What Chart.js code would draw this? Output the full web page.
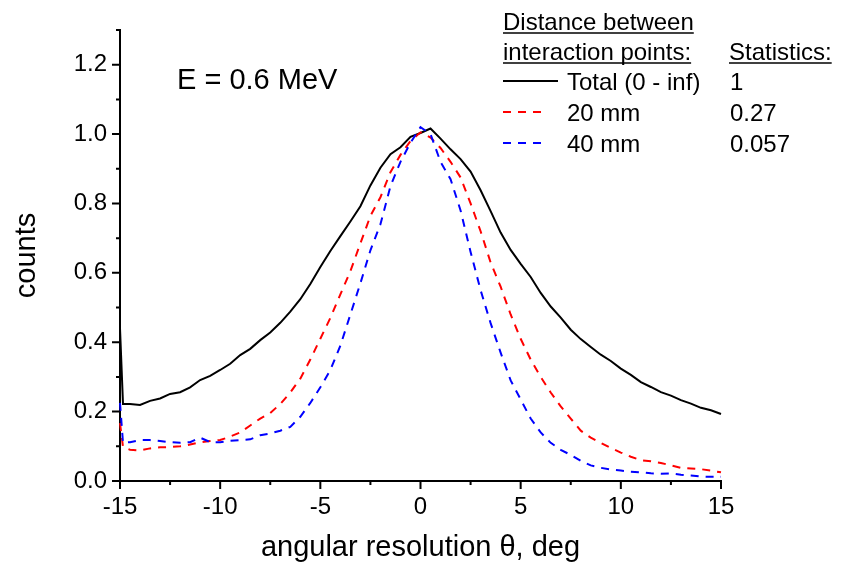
<!DOCTYPE html>
<html>
<head>
<meta charset="utf-8">
<script src="https://cdn.jsdelivr.net/npm/chart.js@4.4.1/dist/chart.umd.min.js"></script>
<style>
  html, body { margin: 0; padding: 0; background: #fff; }
  #wrap { width: 844px; height: 569px; }
</style>
</head>
<body>
<div id="wrap"><canvas id="c" width="844" height="569"></canvas></div>
<script>
// ---- data ----
const theta = [-15, -14.85, -14.5, -14, -13.5, -13, -12.5, -12, -11.5, -11, -10.5, -10, -9.5, -9, -8.5, -8, -7.5, -7, -6.5, -6, -5.5, -5, -4.5, -4, -3.5, -3, -2.5, -2, -1.5, -1, -0.5, 0, 0.5, 1, 1.5, 2, 2.5, 3, 3.5, 4, 4.5, 5, 5.5, 6, 6.5, 7, 7.5, 8, 8.5, 9, 9.5, 10, 10.5, 11, 11.5, 12, 12.5, 13, 13.5, 14, 14.5, 15];
const totalCounts = [0.44, 0.222, 0.222, 0.219, 0.231, 0.238, 0.251, 0.256, 0.270, 0.291, 0.303, 0.320, 0.338, 0.363, 0.381, 0.406, 0.428, 0.456, 0.488, 0.524, 0.568, 0.617, 0.663, 0.706, 0.748, 0.792, 0.852, 0.903, 0.942, 0.962, 0.992, 1.003, 1.016, 0.987, 0.956, 0.928, 0.892, 0.838, 0.778, 0.716, 0.666, 0.626, 0.588, 0.542, 0.503, 0.471, 0.436, 0.409, 0.386, 0.364, 0.346, 0.324, 0.306, 0.285, 0.271, 0.256, 0.246, 0.233, 0.223, 0.211, 0.204, 0.193];
const counts20mm = [0.167, 0.098, 0.090, 0.088, 0.094, 0.097, 0.098, 0.100, 0.105, 0.112, 0.115, 0.118, 0.128, 0.140, 0.160, 0.180, 0.196, 0.222, 0.255, 0.295, 0.350, 0.410, 0.470, 0.538, 0.605, 0.685, 0.764, 0.818, 0.890, 0.940, 0.980, 1.005, 0.990, 0.960, 0.920, 0.875, 0.800, 0.720, 0.630, 0.560, 0.480, 0.410, 0.350, 0.300, 0.255, 0.215, 0.180, 0.145, 0.125, 0.110, 0.095, 0.082, 0.070, 0.060, 0.057, 0.052, 0.045, 0.038, 0.036, 0.034, 0.030, 0.025];
const counts40mm = [0.225, 0.110, 0.112, 0.118, 0.118, 0.115, 0.112, 0.110, 0.112, 0.125, 0.112, 0.112, 0.116, 0.118, 0.120, 0.132, 0.137, 0.145, 0.156, 0.185, 0.225, 0.270, 0.320, 0.390, 0.480, 0.570, 0.665, 0.740, 0.850, 0.920, 0.975, 1.020, 1.000, 0.920, 0.870, 0.780, 0.660, 0.550, 0.455, 0.370, 0.290, 0.235, 0.180, 0.140, 0.110, 0.090, 0.075, 0.058, 0.045, 0.038, 0.033, 0.030, 0.027, 0.025, 0.022, 0.021, 0.022, 0.018, 0.016, 0.013, 0.012, 0.012];

const seriesLabels = ['Total (0 - inf)', '20 mm', '40 mm'];
const statistics = ['1', '0.27', '0.057'];
const xMajorTicks = [-15, -10, -5, 0, 5, 10, 15];
const xMinorTicks = [-12.5, -7.5, -2.5, 2.5, 7.5, 12.5];
const yMajorTicks = [0, 0.2, 0.4, 0.6, 0.8, 1.0, 1.2];
const yMinorTicks = [0.1, 0.3, 0.5, 0.7, 0.9, 1.1, 1.3];

const FONT = "'Liberation Sans', Arial, Helvetica, sans-serif";
const DASH = [8, 7];

function pts(xs, ys) { return xs.map((x, i) => ({ x: x, y: ys[i] })); }

const tickPlugin = {
  id: 'ticksAndText',
  afterDraw(chart) {
    const ctx = chart.ctx;
    const xs = chart.scales.x, ys = chart.scales.y;
    const left = chart.chartArea.left, bottom = chart.chartArea.bottom;
    ctx.save();
    ctx.strokeStyle = '#000';
    ctx.lineWidth = 2;
    ctx.beginPath();
    xMajorTicks.forEach(v => { const p = xs.getPixelForValue(v); ctx.moveTo(p, bottom); ctx.lineTo(p, bottom + 8); });
    xMinorTicks.forEach(v => { const p = xs.getPixelForValue(v); ctx.moveTo(p, bottom); ctx.lineTo(p, bottom + 4); });
    yMajorTicks.forEach(v => { const p = ys.getPixelForValue(v); ctx.moveTo(left, p); ctx.lineTo(left - 8, p); });
    yMinorTicks.forEach(v => { const p = ys.getPixelForValue(v); ctx.moveTo(left, p); ctx.lineTo(left - 4, p); });
    ctx.stroke();

    // annotation
    ctx.fillStyle = '#000';
    ctx.textBaseline = 'alphabetic';
    ctx.textAlign = 'left';
    ctx.font = '29px ' + FONT;
    ctx.fillText('E = 0.6 MeV', 177, 89);

    // legend block
    ctx.font = '24px ' + FONT;
    const underline = (txt, x, y) => {
      ctx.fillText(txt, x, y);
      const w = ctx.measureText(txt).width;
      ctx.beginPath();
      ctx.lineWidth = 1.5;
      ctx.moveTo(x, y + 3);
      ctx.lineTo(x + w, y + 3);
      ctx.stroke();
    };
    underline('Distance between', 503, 30);
    underline('interaction points:', 503, 60);
    underline('Statistics:', 729, 60);

    const rowY = [90, 121, 152];
    const colors = ['#000000', '#ff0000', '#0000ff'];
    const dashes = [[], DASH, DASH];
    const ends = [558, 541, 541];
    for (let i = 0; i < 3; i++) {
      ctx.beginPath();
      ctx.lineWidth = 2;
      ctx.strokeStyle = colors[i];
      ctx.setLineDash(dashes[i]);
      ctx.moveTo(503, rowY[i] - 9);
      ctx.lineTo(ends[i], rowY[i] - 9);
      ctx.stroke();
      ctx.setLineDash([]);
      ctx.fillText(seriesLabels[i], 567, rowY[i]);
      ctx.fillText(statistics[i], 730, rowY[i]);
    }
    ctx.restore();
  }
};

new Chart(document.getElementById('c'), {
  type: 'scatter',
  data: {
    datasets: [
      { label: seriesLabels[0], data: pts(theta, totalCounts), showLine: true, borderColor: '#000000', borderWidth: 2, pointRadius: 0, order: 3, clip: 3 },
      { label: seriesLabels[1], data: pts(theta, counts20mm), showLine: true, borderColor: '#ff0000', borderWidth: 2, borderDash: DASH, pointRadius: 0, order: 2, clip: 3 },
      { label: seriesLabels[2], data: pts(theta, counts40mm), showLine: true, borderColor: '#0000ff', borderWidth: 2, borderDash: DASH, pointRadius: 0, order: 1, clip: 3 }
    ]
  },
  options: {
    responsive: false,
    animation: false,
    devicePixelRatio: 1,
    layout: { padding: { top: 30, right: 123, left: 0, bottom: 0 } },
    plugins: { legend: { display: false }, tooltip: { enabled: false } },
    elements: { line: { tension: 0 } },
    scales: {
      x: {
        type: 'linear', min: -15, max: 15,
        afterFit: s => { s.height = 88; },
        ticks: { stepSize: 5, color: '#000', font: { family: FONT, size: 24 }, padding: 4, maxRotation: 0 },
        grid: { display: true, drawOnChartArea: false, drawTicks: true, tickLength: 8, tickColor: 'rgba(0,0,0,0)' },
        border: { display: true, color: '#000', width: 2 },
        title: { display: true, text: 'angular resolution θ, deg', color: '#000', font: { family: FONT, size: 29 }, padding: { top: 0, bottom: 4 } }
      },
      y: {
        min: 0, max: 1.3,
        afterFit: s => { s.width = 120; },
        ticks: { stepSize: 0.1, autoSkip: false, color: '#000', font: { family: FONT, size: 24 }, padding: 5,
          callback: (v, i) => (i % 2 === 0 && i < 13) ? Number(v).toFixed(1) : '' },
        grid: { display: true, drawOnChartArea: false, drawTicks: true, tickLength: 8, tickColor: 'rgba(0,0,0,0)' },
        border: { display: true, color: '#000', width: 2 },
        title: { display: true, text: 'counts', color: '#000', font: { family: FONT, size: 29 }, padding: { top: 10, bottom: 0 } }
      }
    }
  },
  plugins: [tickPlugin]
});
</script>
</body>
</html>
